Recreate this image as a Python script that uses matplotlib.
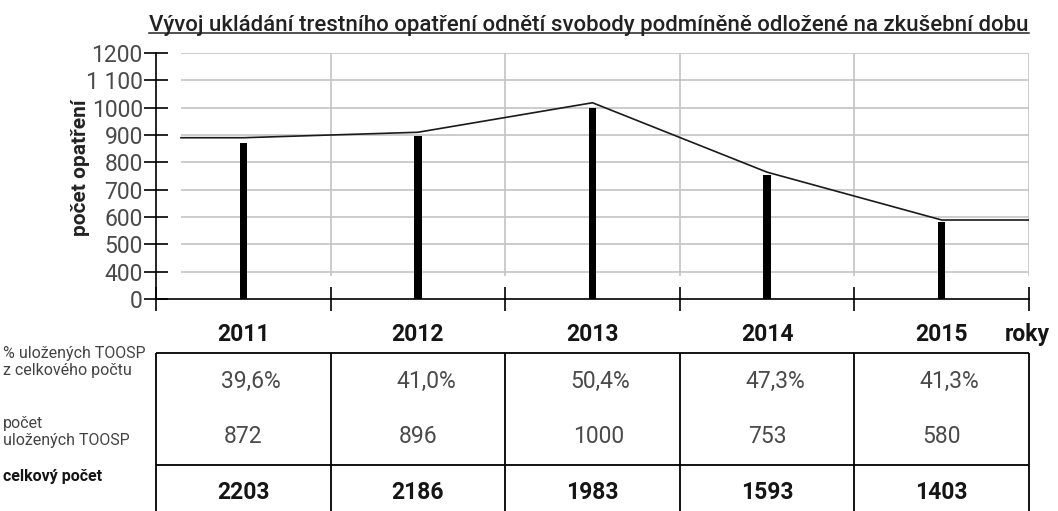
import matplotlib.pyplot as plt
from matplotlib.lines import Line2D

plt.rcParams['font.family'] = ['Roboto', 'DejaVu Sans']

# data
years = ["2011", "2012", "2013", "2014", "2015"]
ulozeno = [872, 896, 1000, 753, 580]          # bars
trend = [890, 910, 1018, 764, 589]            # thin line above the bars
podil = ["39,6%", "41,0%", "50,4%", "47,3%", "41,3%"]
celkem = [2203, 2186, 1983, 1593, 1403]
y_ticks = [300, 400, 500, 600, 700, 800, 900, 1000, 1100, 1200]
y_labels = ["0", "400", "500", "600", "700", "800", "900", "1000", "1 100", "1200"]

title = "Vývoj ukládání trestního opatření odnětí svobody podmíněně odložené na zkušební dobu"

W, H = 1058, 511
L, R, T, B = 156, 1029, 53, 299   # plot box in pixels
grid_c = "#c4c4c4"
soft = "#4a4a4a"
dark = "#151515"

fig = plt.figure(figsize=(W / 100, H / 100), dpi=100)
ax = fig.add_axes([L / W, 1 - B / H, (R - L) / W, (B - T) / H])

x = [i + 0.5 for i in range(len(years))]
grid_start = 0.143

ax.hlines(y_ticks[1:], grid_start, len(years), color=grid_c, lw=1.2, zorder=1)
ax.vlines(range(1, len(years) + 1), 384, 1200, color=grid_c, lw=1.2, zorder=1)
ax.bar(x, ulozeno, width=0.042, color="black", zorder=3)
ax.plot([grid_start] + x + [len(years)], [trend[0]] + trend + [trend[-1]],
        color="#1a1a1a", lw=1.2, zorder=4)

ax.set_xlim(0, len(years))
ax.set_ylim(300, 1200)
ax.set_xticks(range(len(years) + 1))
ax.set_xticklabels([])
ax.set_yticks(y_ticks, y_labels)
ax.tick_params(axis="both", direction="inout", length=17, width=1.2, color="black")
ax.tick_params(axis="y", labelsize=16.5, labelcolor=soft, pad=1)
for s in ["top", "right"]:
    ax.spines[s].set_visible(False)
for s in ["left", "bottom"]:
    ax.spines[s].set_linewidth(1.2)

fig.text(80 / W, 1 - 168 / H, "počet opatření", rotation=90, ha="center", va="center",
         fontsize=15, fontweight="bold", color="#222222")

t = fig.text(589 / W, 1 - 26 / H, title, ha="center", va="center",
             fontsize=16, fontweight="medium", color="#222222")
fig.canvas.draw()
bb = t.get_window_extent().transformed(fig.transFigure.inverted())
uy = bb.y0 + 3 / H
fig.add_artist(Line2D([bb.x0, bb.x1], [uy, uy], color="#222222", lw=1.1))

# table under the chart
tab = fig.add_axes([L / W, 0, (R - L) / W, (H - 310) / H])
tab.set_xlim(0, len(years))
tab.set_ylim(H - 310, 0)
tab.axis("off")
tab.hlines([43, 155], 0, len(years), color="black", lw=1.3, clip_on=False)
tab.vlines(range(len(years) + 1), 43, H - 310, color="black", lw=1.3, clip_on=False)

for i, yr in enumerate(years):
    tab.text(x[i], 24, yr, ha="center", va="center", fontsize=16.5, fontweight="bold",
             color=dark)
    tab.text(x[i] - 0.125, 71, podil[i], ha="left", va="center", fontsize=16.5,
             color=soft)
    tab.text(x[i] - 0.11, 126, str(ulozeno[i]), ha="left", va="center", fontsize=16.5,
             color=soft)
    tab.text(x[i], 182, str(celkem[i]), ha="center", va="center", fontsize=16.5,
             fontweight="bold", color=dark)
tab.text(4.86, 24, "roky", ha="left", va="center", fontsize=16.5, fontweight="bold",
         color=dark, clip_on=False)

fig.text(3 / W, 1 - 362 / H, "% uložených TOOSP\nz celkového počtu", ha="left", va="center",
         fontsize=11.5, color="#444444", linespacing=1.2)
fig.text(3 / W, 1 - 432 / H, "počet\nuložených TOOSP", ha="left", va="center",
         fontsize=11.5, color="#444444", linespacing=1.2)
fig.text(3 / W, 1 - 476 / H, "celkový počet", ha="left", va="center",
         fontsize=11.5, fontweight="bold", color=dark)

fig.savefig("out.png", dpi=100)
